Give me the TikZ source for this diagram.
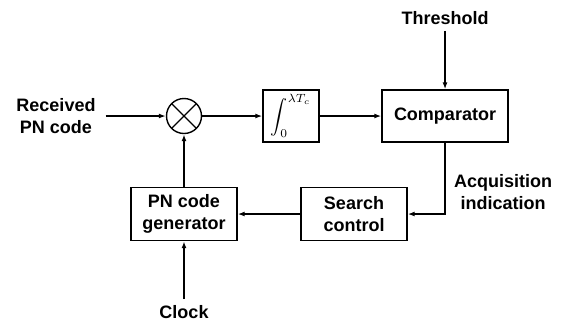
\documentclass[tikz,border=0pt]{standalone}
\usepackage{fontspec}
\setmainfont{Liberation Sans}
\usetikzlibrary{arrows.meta}

\begin{document}
\begin{tikzpicture}[x=1pt,y=-1pt,
    >={Latex[length=7pt,width=5pt]},
    txt/.style={font=\fontsize{18}{21.5}\selectfont\bfseries,align=center,inner sep=0pt}]
\useasboundingbox (0,0) rectangle (564,322);

\begin{scope}[every node/.style={rectangle,draw,line width=1.4pt,txt}]
    \node[minimum width=56pt,minimum height=52pt] (integ) at (291,116)
        {\scalebox{1.7}{\normalsize$\displaystyle\int_0^{\lambda T_c}$}};
    \node[minimum width=126pt,minimum height=52pt] (comp) at (445,116) {Comparator};
    \node[minimum width=106pt,minimum height=53pt] (search) at (354,214) {Search\\control};
    \node[minimum width=106pt,minimum height=53pt] (pngen) at (184,214) {PN code\\generator};
\end{scope}

\node[circle,draw,line width=1.4pt,minimum size=35pt,inner sep=0pt,
      path picture={\draw[line width=1.2pt]
        (path picture bounding box.north west) -- (path picture bounding box.south east)
        (path picture bounding box.north east) -- (path picture bounding box.south west);}]
      (mult) at (184,116) {};

\begin{scope}[every node/.style={txt}]
    \node (recv) at (56,116) {Received\\PN code};
    \node (thresh) at (445,18) {Threshold};
    \node (clock) at (184,312) {Clock};
    \node (acq) at (503,192) {Acquisition\\indication};
\end{scope}

\begin{scope}[every edge/.style={draw=black,line width=1.4pt}]
    \path [->] ([xshift=10pt]recv.east) edge (mult);
    \path [->] (mult) edge (integ);
    \path [->] (integ) edge (comp);
    \path [->] ([yshift=-6pt]thresh.south) edge (comp);
    \path [->] (search) edge (pngen);
    \path [->] (pngen) edge (mult);
    \path [->] ([yshift=6pt]clock.north) edge (pngen);
\end{scope}
\draw [->,line width=1.4pt] (comp.south) |- (search.east);
\end{tikzpicture}
\end{document}
